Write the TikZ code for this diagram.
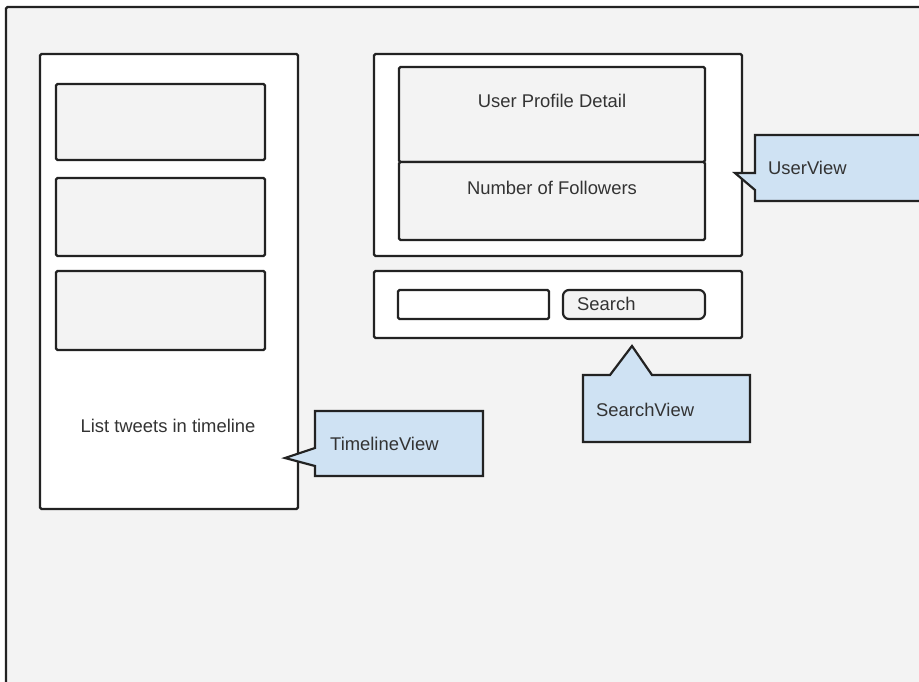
\documentclass[tikz,border=0pt]{standalone}
\usepackage{fontspec}
\setmainfont{Liberation Sans}
\definecolor{canvas}{HTML}{F3F3F3}
\definecolor{ink}{HTML}{222222}
\definecolor{txt}{HTML}{333333}
\definecolor{note}{HTML}{CFE2F3}
\begin{document}
\begin{tikzpicture}[x=1pt,y=-1pt,
  frame/.style={draw=ink,line width=2.2pt,rounded corners=1.5pt},
  panel/.style={frame,fill=white,anchor=north west,inner sep=0pt,outer sep=0pt},
  slot/.style={frame,fill=canvas,anchor=north west,inner sep=0pt,outer sep=0pt},
  callout/.style={draw=ink,line width=2.2pt,fill=note,line join=miter},
  lbl/.style={text=txt,inner sep=0pt,font=\fontsize{18.4}{22}\selectfont},
]
\useasboundingbox (0,0) rectangle (919,682);
\fill[white] (0,0) rectangle (919,682);
\begin{scope}
\clip (0,0) rectangle (919,682);
% page canvas (runs off the right and bottom edges)
\draw[frame,fill=canvas] (6,7) rectangle (960,720);

% timeline column
\node[panel,minimum width=258pt,minimum height=455pt] (timeline) at (40,54) {};
\node[slot,minimum width=209pt,minimum height=76pt] (tweetA) at (56,84) {};
\node[slot,minimum width=209pt,minimum height=78pt] (tweetB) at (56,178) {};
\node[slot,minimum width=209pt,minimum height=79pt] (tweetC) at (56,271) {};
\node[lbl] (timelinetext) at (168,426) {List tweets in timeline};

% user panel
\node[panel,minimum width=368pt,minimum height=202pt] (user) at (374,54) {};
\node[slot,minimum width=306pt,minimum height=95pt] (profile) at (399,67) {};
\node[slot,minimum width=306pt,minimum height=78pt] (followers) at (399,162) {};
\node[lbl] (profiletext) at (552,101) {User Profile Detail};
\node[lbl] (followerstext) at (552,188) {Number of Followers};

% search panel
\node[panel,minimum width=368pt,minimum height=67pt] (search) at (374,271) {};
\node[panel,minimum width=151pt,minimum height=29pt] (field) at (398,290) {};
\node[slot,rounded corners=6pt,minimum width=142pt,minimum height=29pt] (button) at (563,290) {};
\node[lbl,anchor=west] (buttontext) at (577,304) {Search};

% callouts
\draw[callout] (315,411) -- (483,411) -- (483,476) -- (315,476) -- (315,466)
  -- (285,458) -- (315,448) -- cycle;
\node[lbl,anchor=west] (timelinenote) at (330,444) {TimelineView};

\draw[callout] (755,135) -- (940,135) -- (940,201) -- (755,201) -- (755,190)
  -- (735,173) -- (755,173) -- cycle;
\node[lbl,anchor=west] (usernote) at (768,168) {UserView};

\draw[callout] (583,375) -- (610,375) -- (632,346) -- (652,375) -- (750,375)
  -- (750,442) -- (583,442) -- cycle;
\node[lbl,anchor=west] (searchnote) at (596,410) {SearchView};
\end{scope}
\end{tikzpicture}
\end{document}
